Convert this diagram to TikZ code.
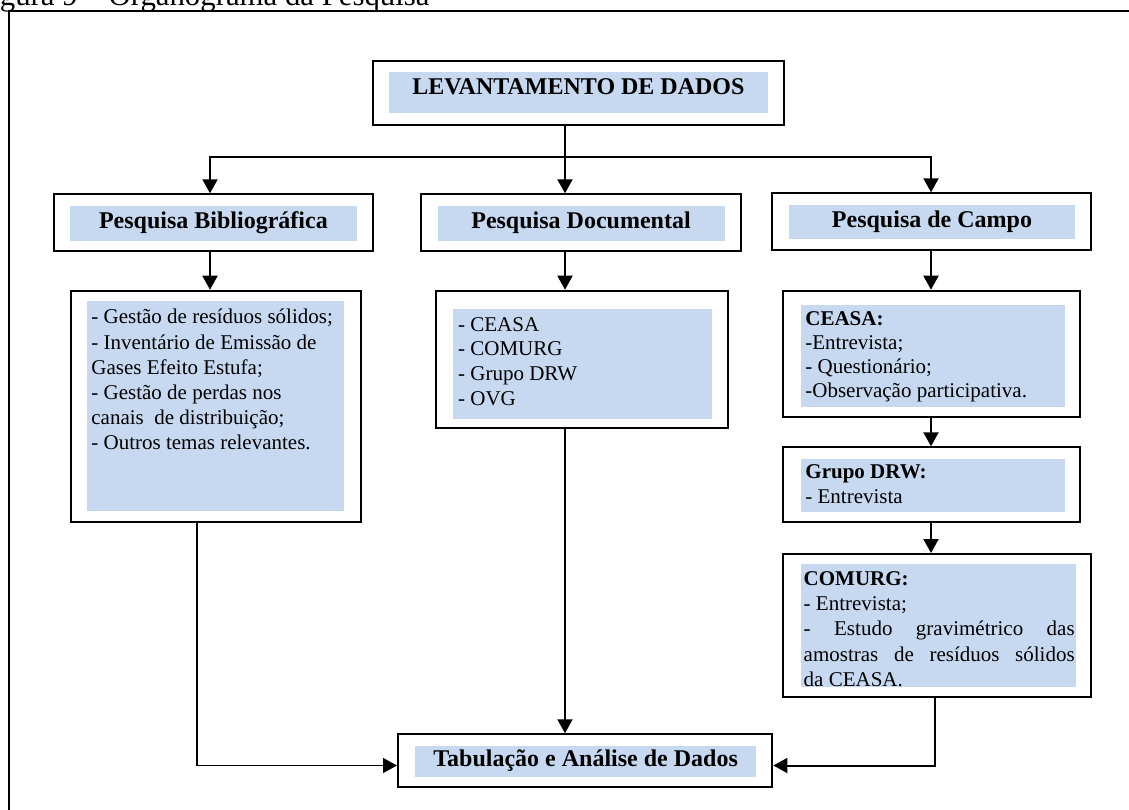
\documentclass[tikz,border=0pt]{standalone}
\usepackage{fontspec}
\setmainfont{Liberation Serif}
\usetikzlibrary{arrows.meta,fit}
\definecolor{azul}{RGB}{198,217,241}
\tikzset{
    caixa/.style = {draw, line width=1pt, fill=white, inner sep=0pt},
    fundo/.style = {fill=azul},
    titulo/.style = {font=\fontsize{12}{14}\selectfont\bfseries, inner sep=0pt, anchor=base},
    corpo/.style = {font=\fontsize{10.5}{#1}\selectfont, inner sep=0pt, align=left, anchor=north west},
    seta/.style = {line width=1pt, -{Triangle[width=7.5pt, length=7pt]}},
    fino/.style = {line width=0.7pt, -{Triangle[width=7.5pt, length=7pt]}}
}
\begin{document}
\begin{tikzpicture}[x=0.5pt, y=-0.5pt]
        \useasboundingbox (0,0) rectangle (1129,809);
        \node [anchor=base east, inner sep=0pt, font=\fontsize{15.4}{18}\selectfont] (legenda) at (430,5) {Figura 9 – Organograma da Pesquisa};
        \draw [line width=0.8pt] (1140,11) -- (9,11) -- (9,820);
        \coordinate (ramo) at (0,157);
        \coordinate (entrada) at (0,765.5);
        \coordinate (colB) at (210,0);
        \coordinate (colD) at (565,0);
        \coordinate (colC) at (931,0);
        \coordinate (colE) at (197,0);
        \coordinate (colF) at (935,0);
        \node [caixa, fit={(372.5,60.7) (784,125)}] (levant) {};
        \fill [fundo] (388.6,72) rectangle (767.5,112.7);
        \node [titulo] (levantT) at (578.5,94.3) {LEVANTAMENTO DE DADOS};
        \node [caixa, fit={(53.6,194.3) (373.2,250.7)}] (bib) {};
        \fill [fundo] (70,206) rectangle (357,240.7);
        \node [titulo] (bibT) at (213.4,228.5) {Pesquisa Bibliográfica};
        \node [caixa, fit={(421.4,194.3) (740.7,251)}] (doc) {};
        \fill [fundo] (437.5,206) rectangle (725,240.7);
        \node [titulo] (docT) at (581,228.5) {Pesquisa Documental};
        \node [caixa, fit={(771.5,193.3) (1091,250)}] (campo) {};
        \fill [fundo] (788.6,205) rectangle (1074.5,239.3);
        \node [titulo] (campoT) at (932,227.5) {Pesquisa de Campo};
        \node [caixa, fit={(70.7,290.7) (360.7,521.7)}] (bibC) {};
        \fill [fundo] (87,301) rectangle (343.6,510.7);
        \node [corpo=12.6pt] (bibL) at (91,305.9) {\strut- Gestão de resíduos sólidos;\\- Inventário de Emissão de\\Gases Efeito Estufa;\\- Gestão de perdas nos\\canais~ de distribuição;\\- Outros temas relevantes.};
        \node [caixa, fit={(436,290.7) (728.3,428.3)}] (docC) {};
        \fill [fundo] (452.7,309) rectangle (712.3,419);
        \node [corpo=12.4pt] (docL) at (457.7,313.3) {\strut- CEASA\\- COMURG\\- Grupo DRW\\- OVG};
        \node [caixa, fit={(783.3,290.7) (1080,417)}] (ceasa) {};
        \fill [fundo] (801,305) rectangle (1065,406.7);
        \node [corpo=12pt] (ceasaL) at (805,308.7) {\strut\textbf{CEASA:}\\-Entrevista;\\- Questionário;\\-Observação participativa.};
        \node [caixa, fit={(783.3,447.3) (1080,521.7)}] (drw) {};
        \fill [fundo] (801,459) rectangle (1065,511.7);
        \node [corpo=12.2pt] (drwL) at (805,461.2) {\strut\textbf{Grupo DRW:}\\- Entrevista};
        \node [caixa, fit={(783.3,554) (1090.7,697.3)}] (comurg) {};
        \fill [fundo] (801,564.3) rectangle (1076,687.3);
        \node [corpo=12.6pt] (comurgL) at (803.3,567.4) {\strut\textbf{COMURG:}\\- Entrevista;\\\makebox[135.5pt][s]{- Estudo gravimétrico das}\\\makebox[135.5pt][s]{amostras de resíduos sólidos}\\da CEASA.};
        \node [caixa, fit={(398,734.3) (772.4,786.7)}] (tab) {};
        \fill [fundo] (414.6,746) rectangle (756,776.7);
        \node [titulo] (tabT) at (585.6,766.7) {Tabulação e Análise de Dados};
        \draw [seta] (levant.south -| colD) -- (doc.north -| colD);
        \draw [seta] (ramo -| colD) -| (bib.north -| colB);
        \draw [seta] (ramo -| colD) -| (campo.north -| colC);
        \draw [seta] (bib.south -| colB) -- (bibC.north -| colB);
        \draw [seta] (doc.south -| colD) -- (docC.north -| colD);
        \draw [seta] (campo.south -| colC) -- (ceasa.north -| colC);
        \draw [seta] (ceasa.south -| colC) -- (drw.north -| colC);
        \draw [seta] (drw.south -| colC) -- (comurg.north -| colC);
        \draw [seta] (docC.south -| colD) -- (tab.north -| colD);
        \draw [fino] (bibC.south -| colE) |- (tab.west |- entrada);
        \draw [seta] (comurg.south -| colF) |- (tab.east |- entrada);
\end{tikzpicture}
\end{document}
